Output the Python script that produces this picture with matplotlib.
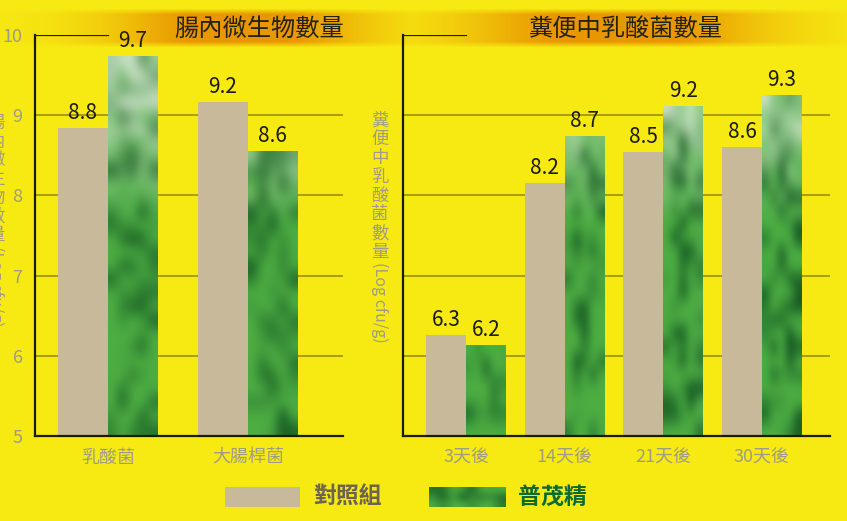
import numpy as np
import matplotlib
matplotlib.use('Agg')
import matplotlib.pyplot as plt
from matplotlib.patches import Rectangle

plt.rcParams['font.family'] = ['Noto Sans CJK TC', 'DejaVu Sans']

# data
left_title = "腸內微生物數量"
left_cats = ["乳酸菌", "大腸桿菌"]
left_ctrl = [8.84, 9.16]
left_prod = [9.74, 8.55]
left_ctrl_lbl = ["8.8", "9.2"]
left_prod_lbl = ["9.7", "8.6"]

right_title = "糞便中乳酸菌數量"
right_cats = ["3天後", "14天後", "21天後", "30天後"]
right_ctrl = [6.26, 8.15, 8.54, 8.60]
right_prod = [6.13, 8.74, 9.11, 9.25]
right_ctrl_lbl = ["6.3", "8.2", "8.5", "8.6"]
right_prod_lbl = ["6.2", "8.7", "9.2", "9.3"]

ctrl_name = "對照組"
prod_name = "普茂精"
left_ylabel = "腸內微生物數量"
right_ylabel = "糞便中乳酸菌數量"
unit = "(Log cfu/g)"

YELLOW = '#f7ea12'
BEIGE = '#c8b99a'
GRID = '#8f8a00'
TICK = '#9f9c86'
INK = '#1c1a08'

W, H = 847, 521
fig = plt.figure(figsize=(W / 100, H / 100), dpi=100, facecolor=YELLOW)

# background layer in pixel coordinates (title bands, legend, y labels)
bg = fig.add_axes([0, 0, 1, 1])
bg.set_xlim(0, W)
bg.set_ylim(H, 0)
bg.axis('off')

xs = np.arange(W)
a = np.maximum(np.exp(-((xs - 240) / 125.0) ** 2), np.exp(-((xs - 615) / 145.0) ** 2))
a = np.clip(a * 1.2, 0, 1)
ys = np.arange(8, 49)
ay = np.clip(np.minimum(ys - 8, 48 - ys) / 6.0, 0, 1)
band = np.zeros((len(ys), W, 4))
band[..., 0] = 0.91
band[..., 1] = 0.58
band[..., 2] = 0.0
band[..., 3] = ay[:, None] * a[None, :] * 0.95
bg.imshow(band, extent=[0, W, 48, 8], aspect='auto', interpolation='bilinear', zorder=1)
bg.set_xlim(0, W)
bg.set_ylim(H, 0)

bg.text(259, 29, left_title, fontsize=17.5, color='#24220c', ha='center', va='center', zorder=2)
bg.text(626, 29, right_title, fontsize=17.5, color='#24220c', ha='center', va='center', zorder=2)

rng = np.random.default_rng(7)


def texture(top, rows, cols=5):
    yv = np.linspace(top, 5, rows)[:, None]
    pale = np.array([0.80, 0.89, 0.78])
    mid = np.array([0.30, 0.68, 0.26])
    dark = np.array([0.07, 0.33, 0.13])
    n1 = rng.random((rows, cols))
    n2 = rng.random((rows, cols))
    wp = np.clip((yv - 7.7) / 1.5, 0, 1) * (0.35 + 0.9 * n1)
    wp = np.clip(wp, 0, 1)
    wd = np.clip((n2 - 0.5) * 2.0, 0, 1) * np.clip(1.2 - wp, 0, 1)
    img = mid * (1 - wp[..., None]) + pale * wp[..., None]
    img = img * (1 - wd[..., None]) + dark * wd[..., None]
    return np.clip(img, 0, 1)


def panel(rect, cats, ctrl, prod, ctrl_lbl, prod_lbl, w, xlim, ticklabels):
    ax = fig.add_axes(rect)
    ax.set_facecolor('none')
    x = np.arange(len(cats))
    for yv in [6, 7, 8, 9]:
        ax.axhline(yv, color=GRID, lw=1.1, zorder=1)
    ax.axhline(10, xmin=0, xmax=(0 - xlim[0]) / (xlim[1] - xlim[0]), color=INK, lw=1.6, zorder=1)
    ax.bar(x - w / 2, ctrl, w, bottom=0, color=BEIGE, zorder=2)
    for xi, v in zip(x, prod):
        bar = Rectangle((xi, 5), w, v - 5, facecolor='#3aa53a', edgecolor='none', zorder=2)
        ax.add_patch(bar)
        rows = max(6, int((v - 5) * 6))
        im = ax.imshow(texture(v, rows), extent=[xi, xi + w, 5, v], aspect='auto',
                       interpolation='bicubic', zorder=3)
        im.set_clip_path(bar)
    for xi, v, s in zip(x, ctrl, ctrl_lbl):
        ax.annotate(s, (xi - w / 2, v), xytext=(0, 3), textcoords='offset points',
                    ha='center', va='bottom', fontsize=15, color=INK, zorder=4)
    for xi, v, s in zip(x, prod, prod_lbl):
        ax.annotate(s, (xi + w / 2, v), xytext=(0, 3), textcoords='offset points',
                    ha='center', va='bottom', fontsize=15, color=INK, zorder=4)
    ax.set_xlim(*xlim)
    ax.set_ylim(5, 10)
    ax.set_xticks(x)
    ax.set_xticklabels(cats, fontsize=12.5, color=TICK)
    ax.set_yticks([5, 6, 7, 8, 9, 10])
    if not ticklabels:
        ax.set_yticklabels([])
    ax.tick_params(length=0, labelsize=13, colors=TICK)
    ax.tick_params(axis='x', pad=9)
    ax.tick_params(axis='y', pad=9)
    for s in ['top', 'right']:
        ax.spines[s].set_visible(False)
    for s in ['left', 'bottom']:
        ax.spines[s].set_color(INK)
        ax.spines[s].set_linewidth(1.6)
        ax.spines[s].set_zorder(5)
    return ax


panel([35 / W, 1 - 436 / H, 308 / W, 401 / H], left_cats, left_ctrl, left_prod,
      left_ctrl_lbl, left_prod_lbl, 0.357, (-0.52, 1.68), True)
panel([403 / W, 1 - 436 / H, 427 / W, 401 / H], right_cats, right_ctrl, right_prod,
      right_ctrl_lbl, right_prod_lbl, 0.405, (-0.64, 3.69), False)


def vlabel(xc, y0, chars):
    step = 18.7
    for i, c in enumerate(chars):
        bg.text(xc, y0 + i * step, c, fontsize=12.5, color=TICK, ha='center', va='center')
    yend = y0 + (len(chars) - 0.5) * step
    bg.text(xc, yend + 1, unit, fontsize=11.5, color=TICK, rotation=-90,
            ha='left', va='center', rotation_mode='anchor')


vlabel(-4, 123, left_ylabel)
vlabel(380, 121, right_ylabel)

# legend
bg.add_patch(Rectangle((225, 487), 75, 20, facecolor=BEIGE, edgecolor='none'))
bg.text(313, 497, ctrl_name, fontsize=16.5, fontweight='bold', color='#6b6450', va='center')
leg = Rectangle((429, 487), 77, 20, facecolor='#3aa53a', edgecolor='none')
bg.add_patch(leg)
lim = bg.imshow(texture(6.5, 3, 8), extent=[429, 506, 507, 487], aspect='auto',
                interpolation='bicubic', zorder=3)
lim.set_clip_path(leg)
bg.text(518, 497, prod_name, fontsize=16.5, fontweight='bold', color='#0b6b30', va='center')
bg.set_xlim(0, W)
bg.set_ylim(H, 0)

fig.savefig('out.png', dpi=100, facecolor=YELLOW)
